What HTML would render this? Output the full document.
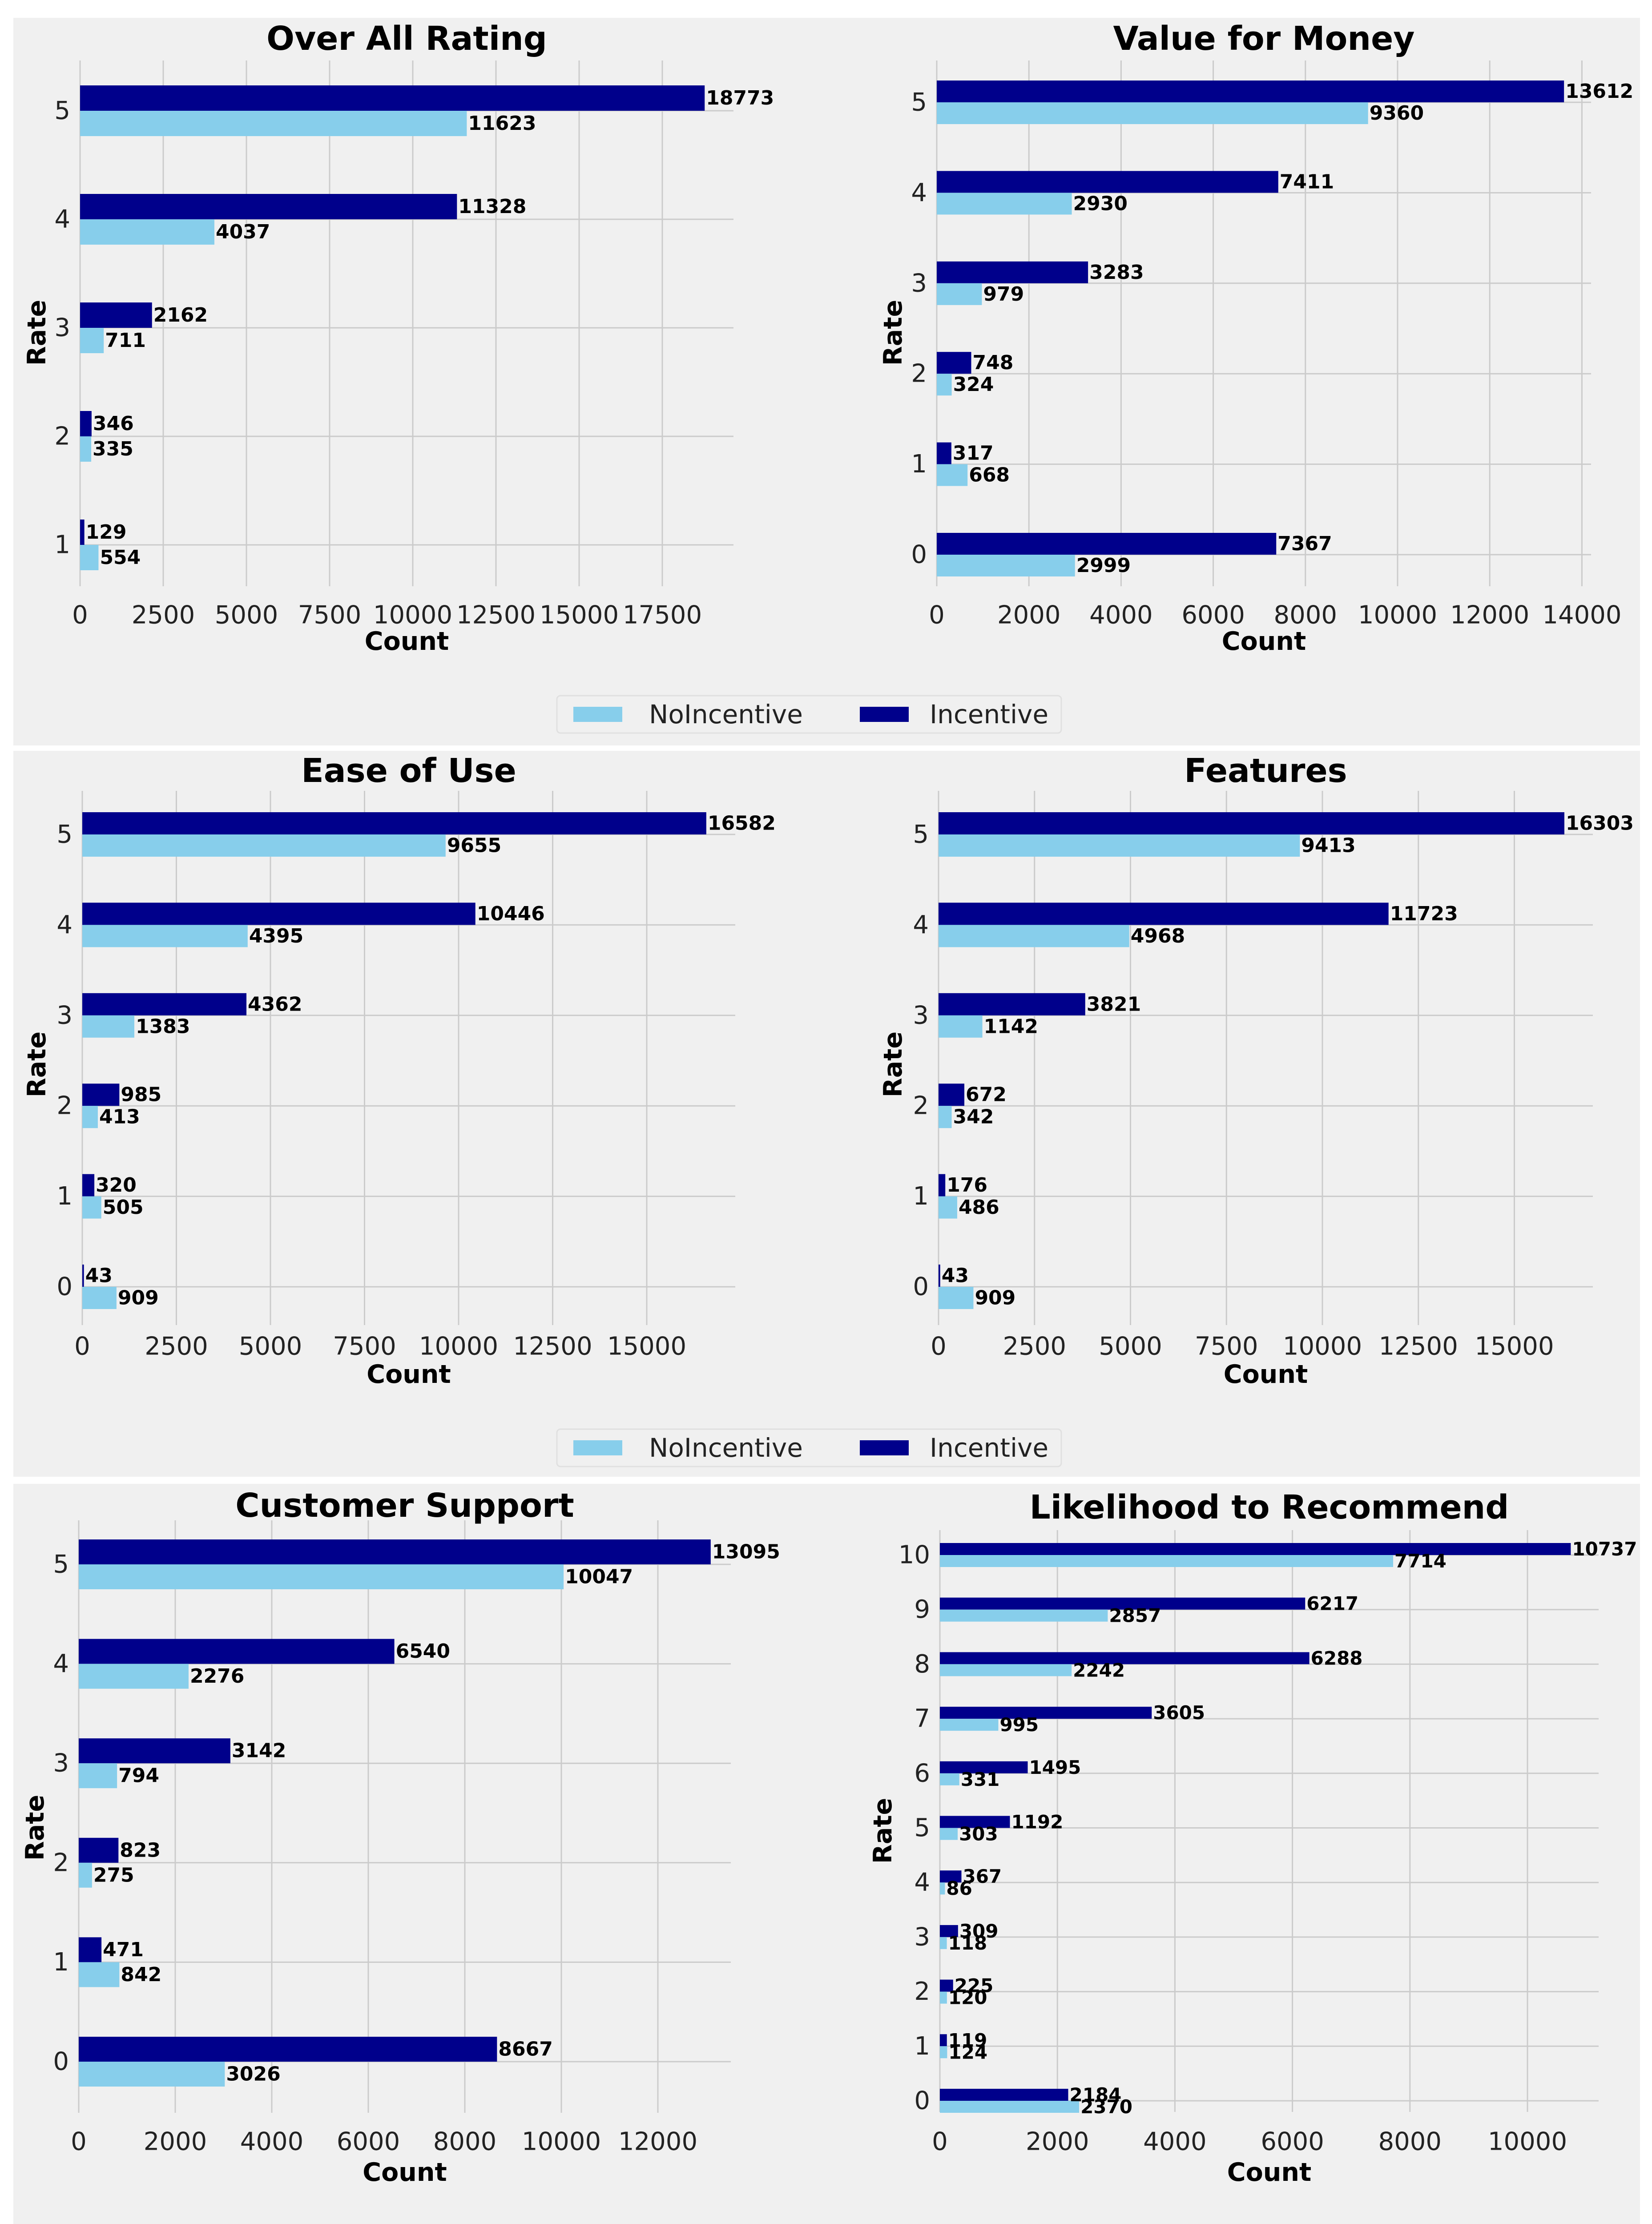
<!DOCTYPE html>
<html><head><meta charset="utf-8">
<style>
html,body{margin:0;padding:0;background:#fff;width:3714px;height:5160px;overflow:hidden;}
svg{display:block;}
text{font-family:"DejaVu Sans","Liberation Sans",sans-serif;}
</style></head>
<body>
<svg id="fig" width="3714" height="5160" viewBox="0 0 3714 5160" xmlns="http://www.w3.org/2000/svg">
<rect x="0" y="0" width="3714" height="5160" fill="#ffffff"/>
<rect x="30" y="40" width="3657" height="1636" fill="#f0f0f0"/>
<rect x="30" y="1688" width="3657" height="1632" fill="#f0f0f0"/>
<rect x="30" y="3336" width="3657" height="1794" fill="#f0f0f0"/>
<g id="charts"></g>
</svg>
<script>
// ---- data ----
const overallCats = [5,4,3,2,1];
const overallIncentive = [18773,11328,2162,346,129];
const overallNoIncentive = [11623,4037,711,335,554];
const overallTicks = [0,2500,5000,7500,10000,12500,15000,17500];

const valueCats = [5,4,3,2,1,0];
const valueIncentive = [13612,7411,3283,748,317,7367];
const valueNoIncentive = [9360,2930,979,324,668,2999];
const valueTicks = [0,2000,4000,6000,8000,10000,12000,14000];

const easeCats = [5,4,3,2,1,0];
const easeIncentive = [16582,10446,4362,985,320,43];
const easeNoIncentive = [9655,4395,1383,413,505,909];
const easeTicks = [0,2500,5000,7500,10000,12500,15000];

const featCats = [5,4,3,2,1,0];
const featIncentive = [16303,11723,3821,672,176,43];
const featNoIncentive = [9413,4968,1142,342,486,909];
const featTicks = [0,2500,5000,7500,10000,12500,15000];

const supportCats = [5,4,3,2,1,0];
const supportIncentive = [13095,6540,3142,823,471,8667];
const supportNoIncentive = [10047,2276,794,275,842,3026];
const supportTicks = [0,2000,4000,6000,8000,10000,12000];

const recCats = [10,9,8,7,6,5,4,3,2,1,0];
const recIncentive = [10737,6217,6288,3605,1495,1192,367,309,225,119,2184];
const recNoIncentive = [7714,2857,2242,995,331,303,86,118,120,124,2370];
const recTicks = [0,2000,4000,6000,8000,10000];

const legendLabels = ["NoIncentive","Incentive"];

// ---- layout ----
const NS="http://www.w3.org/2000/svg";
const root=document.getElementById('charts');
function mk(tag,attrs,parent,txt){const e=document.createElementNS(NS,tag);for(const k in attrs)e.setAttribute(k,attrs[k]);if(txt!==undefined)e.textContent=txt;(parent||root).appendChild(e);return e;}

const panels=[
 {title:"Over All Rating",cats:overallCats,inc:overallIncentive,no:overallNoIncentive,ticks:overallTicks,
  x0:180,scale:0.0748,xr:1649,c0:249,c1:1225,bh:57,gt:136,gb:1318,tickY:1383,cntY:1442,titleY:87,rateX:83,rateY:748},
 {title:"Value for Money",cats:valueCats,inc:valueIncentive,no:valueNoIncentive,ticks:valueTicks,
  x0:2106,scale:0.1036,xr:3577,c0:230,c1:1247,bh:49,gt:136,gb:1318,tickY:1383,cntY:1442,titleY:87,rateX:2008,rateY:748},
 {title:"Ease of Use",cats:easeCats,inc:easeIncentive,no:easeNoIncentive,ticks:easeTicks,
  x0:185,scale:0.0846,xr:1653,c0:1876,c1:2893,bh:50,gt:1778,gb:2979,tickY:3027,cntY:3090,titleY:1733,rateX:83,rateY:2393},
 {title:"Features",cats:featCats,inc:featIncentive,no:featNoIncentive,ticks:featTicks,
  x0:2110,scale:0.0863,xr:3581,c0:1876,c1:2893,bh:50,gt:1778,gb:2979,tickY:3027,cntY:3090,titleY:1733,rateX:2008,rateY:2393},
 {title:"Customer Support",cats:supportCats,inc:supportIncentive,no:supportNoIncentive,ticks:supportTicks,
  x0:177,scale:0.1085,xr:1643,c0:3517,c1:4635,bh:56,gt:3418,gb:4750,tickY:4815,cntY:4884,titleY:3385,rateX:79,rateY:4109},
 {title:"Likelihood to Recommend",cats:recCats,inc:recIncentive,no:recNoIncentive,ticks:recTicks,
  x0:2113,scale:0.1321,xr:3594,c0:3496,c1:4723,bh:27,gt:3440,gb:4748,tickY:4815,cntY:4884,titleY:3389,rateX:1985,rateY:4116}
];

panels.forEach((p)=>{
  const g=mk('g',{});
  
  
  const xs=v=>p.x0+v*p.scale;
  const n=p.cats.length;
  const ys=i=>p.c0+(p.c1-p.c0)*i/(n-1);
  p.ticks.forEach(t=>{
    const l=mk('line',{x1:xs(t),x2:xs(t),y1:p.gt,y2:p.gb,stroke:'#cbcbcb','stroke-width':3},g);
    
    
    const tl=mk('text',{x:xs(t),y:p.tickY,'font-size':56,'text-anchor':'middle','dominant-baseline':'central',fill:'#222'},g,String(t));
    
    
  });
  p.cats.forEach((c,i)=>{
    const l=mk('line',{x1:p.x0,x2:p.xr,y1:ys(i),y2:ys(i),stroke:'#cbcbcb','stroke-width':3},g);
    
    
    const tl=mk('text',{x:p.x0-22,y:ys(i),'font-size':56,'text-anchor':'end','dominant-baseline':'central',fill:'#222'},g,String(c));
    
    
  });
  p.cats.forEach((c,i)=>{
    const y=ys(i);
    const b1=mk('rect',{x:p.x0,y:y-p.bh,width:Math.max(2,xs(p.inc[i])-p.x0),height:p.bh,fill:'#00008b'},g);
    
    
    const b2=mk('rect',{x:p.x0,y:y,width:Math.max(2,xs(p.no[i])-p.x0),height:p.bh,fill:'#87ceeb'},g);
    
    
    const fs=p.bh<35?42:44;
    const v1=mk('text',{x:xs(p.inc[i])+3,y:y-p.bh/2,'font-size':fs,'font-weight':'bold','dominant-baseline':'central',fill:'#000'},g,String(p.inc[i]));
    
    
    const v2=mk('text',{x:xs(p.no[i])+3,y:y+p.bh/2,'font-size':fs,'font-weight':'bold','dominant-baseline':'central',fill:'#000'},g,String(p.no[i]));
    
    
  });
  const mid=(p.x0+p.xr)/2;
  const t=mk('text',{x:mid,y:p.titleY,'font-size':74,'font-weight':'bold','text-anchor':'middle','dominant-baseline':'central',fill:'#000'},g,p.title);
  
  
  const cl=mk('text',{x:mid,y:p.cntY,'font-size':57,'font-weight':'bold','text-anchor':'middle','dominant-baseline':'central',fill:'#000'},g,'Count');
  
  
  const rl=mk('text',{x:p.rateX,y:p.rateY,'font-size':57,'font-weight':'bold','text-anchor':'middle','dominant-baseline':'central',fill:'#000',transform:'rotate(-90 '+p.rateX+' '+p.rateY+')'},g,'Rate');
  
  
});

[1606,3255,5068].forEach(ly=>{
  const g=mk('g',{});
  
  
  mk('rect',{x:1252,y:ly-42,width:1134,height:84,rx:8,fill:'#f0f0f0',stroke:'#e0e0e0','stroke-width':3},g);
  const cols=['#87ceeb','#00008b'];
  const px=[1289,1933], tx=[1459,2090];
  legendLabels.forEach((lab,i)=>{
    const r=mk('rect',{x:px[i],y:ly-17,width:110,height:34,fill:cols[i]},g);
    
    
    const tt=mk('text',{x:tx[i],y:ly,'font-size':58,'dominant-baseline':'central',fill:'#222'},g,lab);
    
    
  });
});
</script>
</body></html>
